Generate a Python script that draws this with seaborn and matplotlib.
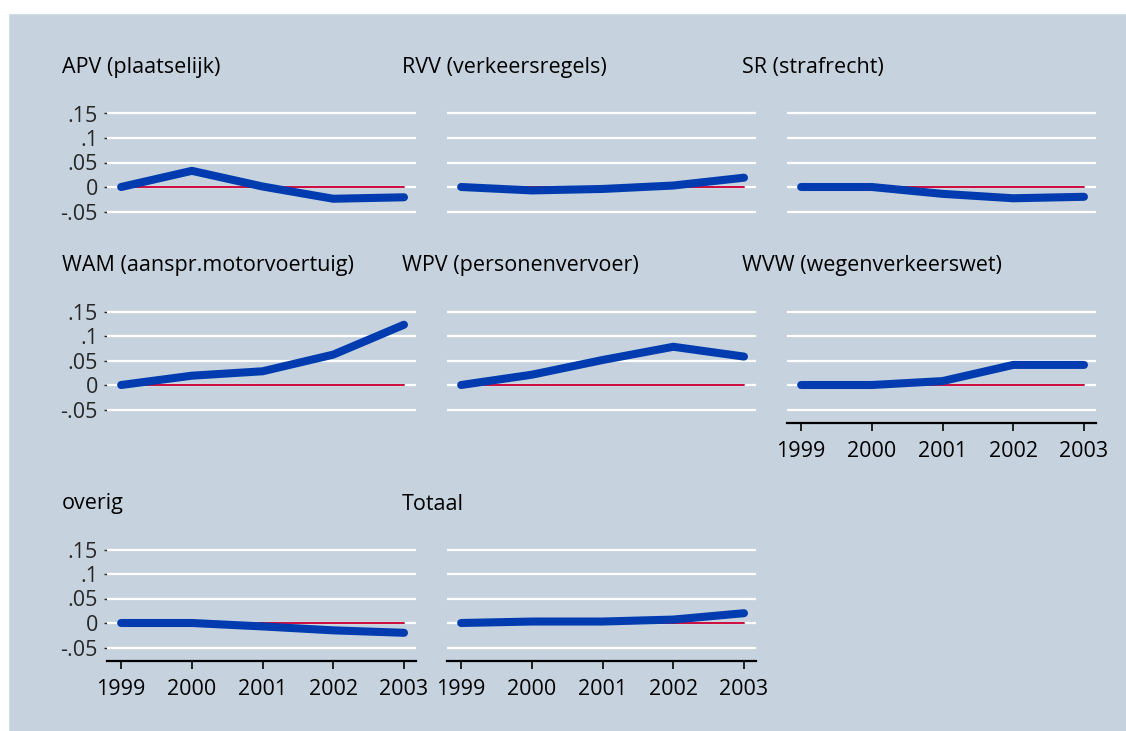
import pandas as pd
import matplotlib
matplotlib.use("Agg")
import matplotlib.pyplot as plt
import seaborn as sns

# jaren en veranderingen per wet
jaren = [1999, 2000, 2001, 2002, 2003]
titels = ["APV (plaatselijk)", "RVV (verkeersregels)", "SR (strafrecht)",
          "WAM (aanspr.motorvoertuig)", "WPV (personenvervoer)", "WVW (wegenverkeerswet)",
          "overig", "Totaal"]
apv = [0.0, 0.033, 0.001, -0.024, -0.021]
rvv = [0.0, -0.007, -0.004, 0.003, 0.019]
sr = [0.0, 0.0, -0.014, -0.023, -0.020]
wam = [0.0, 0.019, 0.028, 0.062, 0.123]
wpv = [0.0, 0.021, 0.051, 0.078, 0.058]
wvw = [0.0, 0.0, 0.008, 0.041, 0.041]
overig = [0.0, 0.0, -0.007, -0.015, -0.020]
totaal = [0.0, 0.003, 0.003, 0.007, 0.020]
reeksen = [apv, rvv, sr, wam, wpv, wvw, overig, totaal]
y_ticks = [-0.05, 0, 0.05, 0.1, 0.15]
y_labels = ["-.05", "0", ".05", ".1", ".15"]

bg = "#c6d3df"
blauw = "#003cb0"
rood = "#cc0a3c"

sns.set_style("white")
plt.rcParams['font.family'] = ['Open Sans', 'DejaVu Sans']

W, H = 1126, 731
fig = plt.figure(figsize=(W / 100, H / 100), dpi=100, facecolor=bg)
# witte rand boven en links
fig.patches.append(plt.Rectangle((0, 1 - 13 / H), 1, 13 / H, transform=fig.transFigure,
                                 color="white", zorder=0))
fig.patches.append(plt.Rectangle((0, 0), 8 / W, 1, transform=fig.transFigure,
                                 color="white", zorder=0))

kol_links = [107, 447, 787]
rij_nul = [187, 385, 623]
breedte = 309

for i, (titel, waarden) in enumerate(zip(titels, reeksen)):
    r, c = divmod(i, 3)
    links = kol_links[c]
    onder = rij_nul[r] + 0.077 * 490
    boven = rij_nul[r] - 0.16 * 490
    ax = fig.add_axes([links / W, 1 - onder / H, breedte / W, (onder - boven) / H])
    ax.set_facecolor(bg)
    for yt in y_ticks:
        ax.axhline(yt, color="white", lw=1.6, zorder=1)
    df = pd.DataFrame({"jaar": jaren, "waarde": waarden})
    sns.lineplot(x=jaren, y=[0] * len(jaren), ax=ax, color=rood, lw=1.4, zorder=2)
    sns.lineplot(data=df, x="jaar", y="waarde", ax=ax, color=blauw, lw=5.8,
                 zorder=3, solid_capstyle="round", solid_joinstyle="round")
    ax.set_xlim(1998.8, 2003.17)
    ax.set_ylim(-0.077, 0.16)
    ax.set_xlabel("")
    ax.set_ylabel("")
    for s in ["top", "right", "left"]:
        ax.spines[s].set_visible(False)

    toon_x = (r == 2) or (r == 1 and c == 2)
    if toon_x:
        ax.spines["bottom"].set_color("black")
        ax.spines["bottom"].set_linewidth(1.6)
        ax.set_xticks(jaren)
        ax.set_xticklabels([str(j) for j in jaren])
        ax.tick_params(axis="x", length=6, width=1.2, pad=7, labelsize=15.5,
                       bottom=True, colors="black")
    else:
        ax.spines["bottom"].set_visible(False)
        ax.set_xticks([])

    if c == 0:
        ax.set_yticks(y_ticks)
        ax.set_yticklabels(y_labels)
        ax.tick_params(axis="y", length=2.5, width=1, pad=4, labelsize=15.5, left=True)
    else:
        ax.set_yticks([])

    fig.text((links - 45) / W, 1 - (rij_nul[r] - 119) / H, titel,
             fontsize=15.5, ha="left", va="center", color="black")

plt.savefig("out.png", dpi=100, facecolor=bg)
